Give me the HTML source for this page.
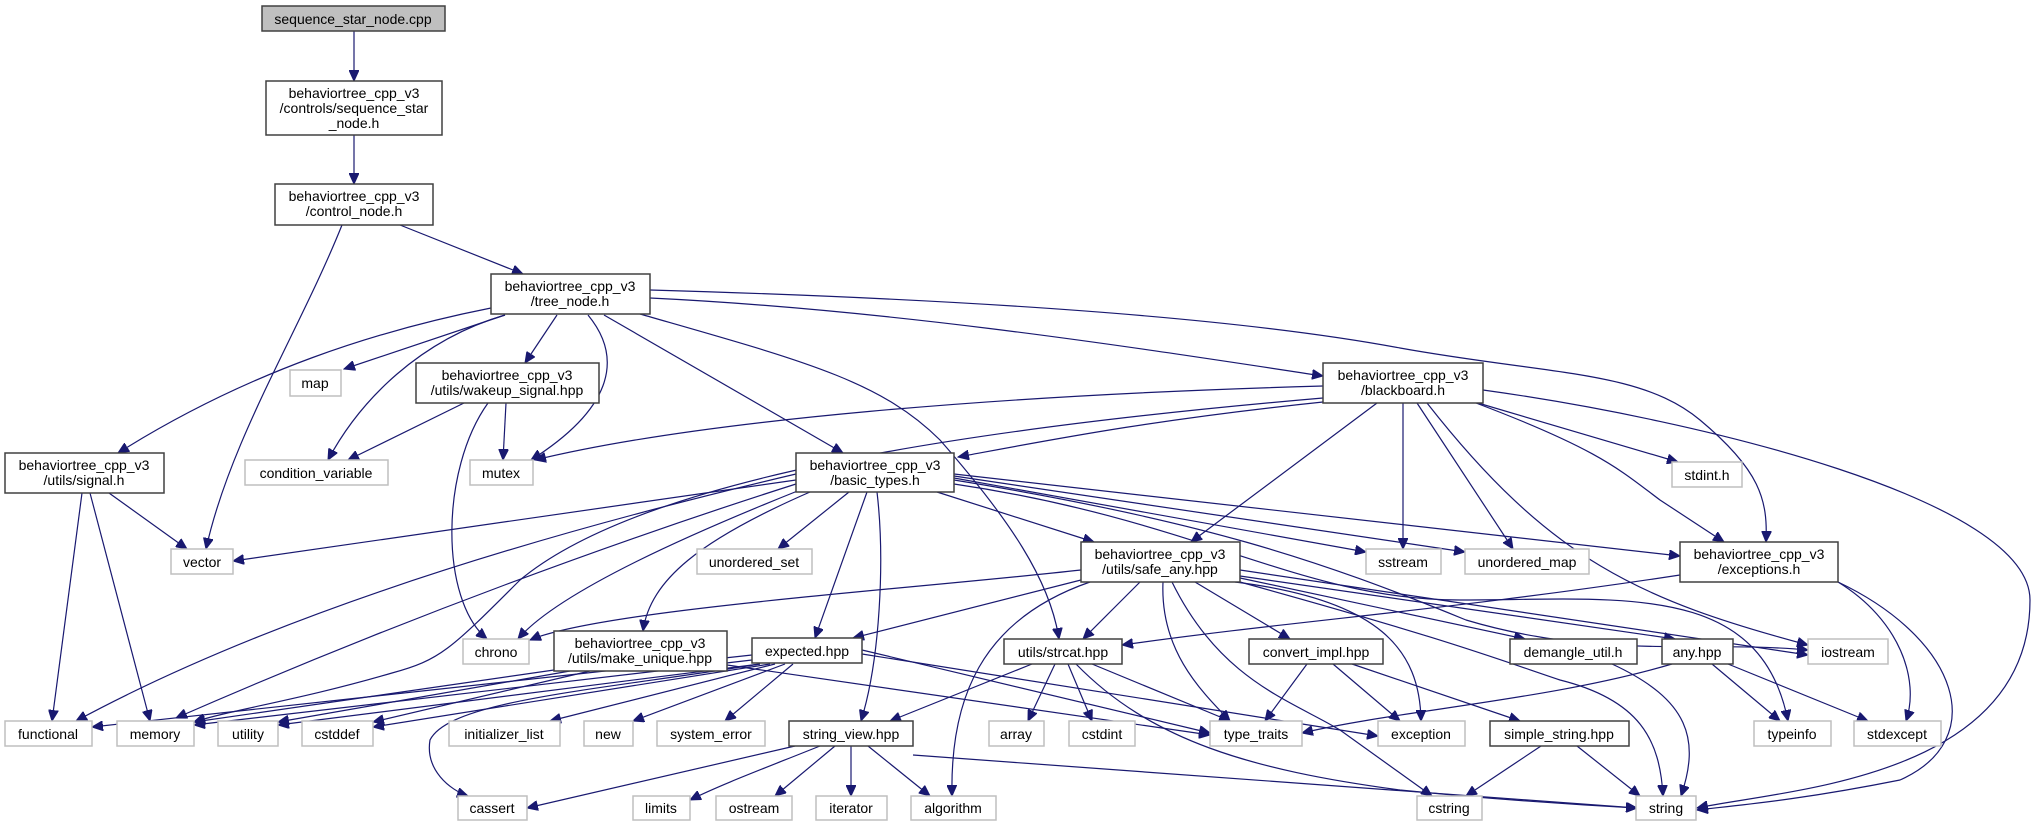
<!DOCTYPE html>
<html><head><meta charset="utf-8"><style>
html,body{margin:0;padding:0;background:#fff;}
svg{display:block;}
text{font-family:"Liberation Sans",sans-serif;font-size:14px;fill:#000;text-anchor:middle;}
.p{fill:#fff;stroke:#404040;stroke-width:1.5;}
.s{fill:#fff;stroke:#bfbfbf;stroke-width:1.5;}
.e{fill:none;stroke:#191970;stroke-width:1.2;}
</style></head><body>
<svg width="2035" height="827" viewBox="0 0 2035 827" xmlns="http://www.w3.org/2000/svg">
<defs><marker id="a" markerUnits="userSpaceOnUse" markerWidth="12" markerHeight="10" refX="11" refY="5" orient="auto"><path d="M0,0 L11,5 L0,10 z" fill="#191970" stroke="#191970"/></marker></defs>
<g class="e" marker-end="url(#a)">
<path d="M354,31 L354,81"/>
<path d="M354,135 L354,184"/>
<path d="M400,225 L523,274"/>
<path d="M342,225 C300,330 230,440 206,549"/>
<path d="M491,308 C380,330 250,370 118,453"/>
<path d="M505,315 L344,369"/>
<path d="M505,315 C420,340 360,400 328,460"/>
<path d="M557,315 L525,363"/>
<path d="M588,315 C625,360 610,410 531,460"/>
<path d="M604,315 L843,453"/>
<path d="M640,314 C800,360 880,380 940,440 C1010,520 1050,580 1059,639"/>
<path d="M650,298 C900,310 1150,350 1323,376"/>
<path d="M650,290 C1000,300 1250,320 1400,348 C1550,375 1640,370 1700,420 C1760,470 1768,500 1766,542"/>
<path d="M464,403 L348,460"/>
<path d="M506,403 L503,460"/>
<path d="M488,403 C440,470 440,600 487,639"/>
<path d="M109,493 L187,549"/>
<path d="M82,493 L52,721"/>
<path d="M90,493 L150,721"/>
<path d="M1323,386 C1000,395 700,420 535,460"/>
<path d="M1323,398 C950,430 640,480 520,580 C450,650 440,660 392,673 C300,700 230,710 194,722"/>
<path d="M1323,402 C1150,420 1050,440 958,457"/>
<path d="M1377,403 L1191,542"/>
<path d="M1403,403 L1403,549"/>
<path d="M1417,403 L1513,549"/>
<path d="M1427,403 C1550,560 1640,600 1808,645"/>
<path d="M1476,403 C1600,450 1620,470 1660,500 L1724,542"/>
<path d="M1478,403 L1678,462"/>
<path d="M1483,390 C1700,420 2030,500 2030,600 C2030,780 1780,790 1697,808"/>
<path d="M796,480 L233,561"/>
<path d="M796,474 C600,520 300,600 76,721"/>
<path d="M796,484 C620,540 400,620 176,718"/>
<path d="M800,490 C700,530 560,590 518,639"/>
<path d="M810,492 C700,540 650,580 643,631"/>
<path d="M849,492 L778,549"/>
<path d="M867,492 L815,638"/>
<path d="M877,492 C885,560 880,660 861,721"/>
<path d="M937,492 L1094,542"/>
<path d="M954,478 L1366,552"/>
<path d="M954,476 L1465,552"/>
<path d="M954,474 L1680,556"/>
<path d="M954,480 C1200,520 1320,560 1466,620 C1600,660 1700,640 1808,650"/>
<path d="M954,484 C1200,520 1300,600 1460,600 C1620,600 1760,580 1788,721"/>
<path d="M1081,570 C900,590 600,610 530,640"/>
<path d="M1081,580 L853,638"/>
<path d="M1090,582 C980,620 950,700 952,796"/>
<path d="M1140,582 L1083,639"/>
<path d="M1163,582 C1160,650 1200,690 1230,721"/>
<path d="M1172,582 C1220,680 1290,700 1340,730 L1432,796"/>
<path d="M1195,582 L1290,639"/>
<path d="M1235,582 C1380,600 1420,650 1421,721"/>
<path d="M1240,582 C1450,640 1500,660 1560,680 C1640,700 1660,740 1663,796"/>
<path d="M1240,578 L1525,639"/>
<path d="M1240,576 L1675,639"/>
<path d="M1240,570 L1808,655"/>
<path d="M1680,575 C1450,610 1300,620 1122,645"/>
<path d="M1838,582 C1900,620 1920,680 1906,721"/>
<path d="M1838,582 C1960,640 1990,740 1900,780 C1800,800 1740,805 1697,810"/>
<path d="M554,670 L194,722"/>
<path d="M570,671 L278,722"/>
<path d="M590,671 L373,722"/>
<path d="M727,665 L1210,735"/>
<path d="M752,655 L92,727"/>
<path d="M752,660 L194,725"/>
<path d="M760,664 L278,725"/>
<path d="M770,664 L373,727"/>
<path d="M760,664 C600,690 450,700 430,740 C425,770 450,790 468,796"/>
<path d="M775,664 L550,721"/>
<path d="M785,664 L633,721"/>
<path d="M793,664 L725,721"/>
<path d="M862,650 L1210,733"/>
<path d="M862,654 L1378,736"/>
<path d="M1032,664 L890,721"/>
<path d="M1055,664 L1028,721"/>
<path d="M1068,664 L1092,721"/>
<path d="M1092,664 L1230,721"/>
<path d="M1076,664 C1150,740 1250,770 1400,790 C1500,800 1580,805 1637,808"/>
<path d="M795,746 L527,808"/>
<path d="M820,746 C760,770 720,785 690,800"/>
<path d="M835,746 L775,796"/>
<path d="M851,746 L851,796"/>
<path d="M868,746 L930,796"/>
<path d="M913,755 L1637,808"/>
<path d="M1307,664 L1265,721"/>
<path d="M1333,664 L1400,721"/>
<path d="M1352,664 L1520,721"/>
<path d="M1612,664 C1690,700 1700,740 1681,796"/>
<path d="M1672,664 C1550,700 1400,710 1302,733"/>
<path d="M1712,664 L1780,721"/>
<path d="M1728,664 L1868,721"/>
<path d="M1541,746 L1466,796"/>
<path d="M1577,746 L1640,796"/>
</g>
<rect x="262" y="6" width="183" height="25" fill="#bfbfbf" stroke="#404040" stroke-width="1.5"/><text x="353" y="24">sequence_star_node.cpp</text>
<rect class="p" x="266" y="81" width="176" height="54"/><text x="354" y="98">behaviortree_cpp_v3</text><text x="354" y="113">/controls/sequence_star</text><text x="354" y="128">_node.h</text>
<rect class="p" x="275" y="184" width="158" height="41"/><text x="354" y="201">behaviortree_cpp_v3</text><text x="354" y="216">/control_node.h</text>
<rect class="p" x="491" y="274" width="159" height="40"/><text x="570" y="291">behaviortree_cpp_v3</text><text x="570" y="306">/tree_node.h</text>
<rect class="s" x="290" y="370" width="51" height="26"/><text x="315" y="388">map</text>
<rect class="p" x="416" y="363" width="183" height="40"/><text x="507" y="380">behaviortree_cpp_v3</text><text x="507" y="395">/utils/wakeup_signal.hpp</text>
<rect class="p" x="1323" y="363" width="160" height="40"/><text x="1403" y="380">behaviortree_cpp_v3</text><text x="1403" y="395">/blackboard.h</text>
<rect class="p" x="5" y="453" width="159" height="40"/><text x="84" y="470">behaviortree_cpp_v3</text><text x="84" y="485">/utils/signal.h</text>
<rect class="s" x="245" y="460" width="143" height="25"/><text x="316" y="478">condition_variable</text>
<rect class="s" x="470" y="460" width="63" height="25"/><text x="501" y="478">mutex</text>
<rect class="s" x="1672" y="462" width="70" height="25"/><text x="1707" y="480">stdint.h</text>
<rect class="p" x="796" y="453" width="158" height="39"/><text x="875" y="470">behaviortree_cpp_v3</text><text x="875" y="485">/basic_types.h</text>
<rect class="s" x="171" y="549" width="62" height="25"/><text x="202" y="567">vector</text>
<rect class="s" x="697" y="549" width="115" height="25"/><text x="754" y="567">unordered_set</text>
<rect class="p" x="1081" y="542" width="159" height="40"/><text x="1160" y="559">behaviortree_cpp_v3</text><text x="1160" y="574">/utils/safe_any.hpp</text>
<rect class="s" x="1366" y="549" width="75" height="25"/><text x="1403" y="567">sstream</text>
<rect class="s" x="1465" y="549" width="124" height="25"/><text x="1527" y="567">unordered_map</text>
<rect class="p" x="1680" y="542" width="158" height="40"/><text x="1759" y="559">behaviortree_cpp_v3</text><text x="1759" y="574">/exceptions.h</text>
<rect class="s" x="463" y="639" width="66" height="25"/><text x="496" y="657">chrono</text>
<rect class="p" x="554" y="631" width="173" height="40"/><text x="640" y="648">behaviortree_cpp_v3</text><text x="640" y="663">/utils/make_unique.hpp</text>
<rect class="p" x="752" y="638" width="110" height="25"/><text x="807" y="656">expected.hpp</text>
<rect class="p" x="1004" y="639" width="118" height="25"/><text x="1063" y="657">utils/strcat.hpp</text>
<rect class="p" x="1249" y="639" width="134" height="25"/><text x="1316" y="657">convert_impl.hpp</text>
<rect class="p" x="1510" y="639" width="127" height="25"/><text x="1573" y="657">demangle_util.h</text>
<rect class="p" x="1662" y="639" width="71" height="25"/><text x="1697" y="657">any.hpp</text>
<rect class="s" x="1808" y="639" width="80" height="25"/><text x="1848" y="657">iostream</text>
<rect class="s" x="5" y="721" width="87" height="25"/><text x="48" y="739">functional</text>
<rect class="s" x="117" y="721" width="77" height="25"/><text x="155" y="739">memory</text>
<rect class="s" x="218" y="721" width="60" height="25"/><text x="248" y="739">utility</text>
<rect class="s" x="302" y="721" width="71" height="25"/><text x="337" y="739">cstddef</text>
<rect class="s" x="449" y="721" width="111" height="25"/><text x="504" y="739">initializer_list</text>
<rect class="s" x="584" y="721" width="49" height="25"/><text x="608" y="739">new</text>
<rect class="s" x="657" y="721" width="108" height="25"/><text x="711" y="739">system_error</text>
<rect class="p" x="789" y="721" width="124" height="25"/><text x="851" y="739">string_view.hpp</text>
<rect class="s" x="989" y="721" width="55" height="25"/><text x="1016" y="739">array</text>
<rect class="s" x="1069" y="721" width="66" height="25"/><text x="1102" y="739">cstdint</text>
<rect class="s" x="1210" y="721" width="92" height="25"/><text x="1256" y="739">type_traits</text>
<rect class="s" x="1378" y="721" width="87" height="25"/><text x="1421" y="739">exception</text>
<rect class="p" x="1490" y="721" width="139" height="25"/><text x="1559" y="739">simple_string.hpp</text>
<rect class="s" x="1754" y="721" width="77" height="25"/><text x="1792" y="739">typeinfo</text>
<rect class="s" x="1854" y="721" width="87" height="25"/><text x="1897" y="739">stdexcept</text>
<rect class="s" x="458" y="796" width="69" height="24"/><text x="492" y="813">cassert</text>
<rect class="s" x="633" y="796" width="57" height="24"/><text x="661" y="813">limits</text>
<rect class="s" x="716" y="796" width="76" height="24"/><text x="754" y="813">ostream</text>
<rect class="s" x="816" y="796" width="71" height="24"/><text x="851" y="813">iterator</text>
<rect class="s" x="911" y="796" width="85" height="24"/><text x="953" y="813">algorithm</text>
<rect class="s" x="1417" y="796" width="65" height="24"/><text x="1449" y="813">cstring</text>
<rect class="s" x="1636" y="796" width="60" height="24"/><text x="1666" y="813">string</text>
</svg>
</body></html>
